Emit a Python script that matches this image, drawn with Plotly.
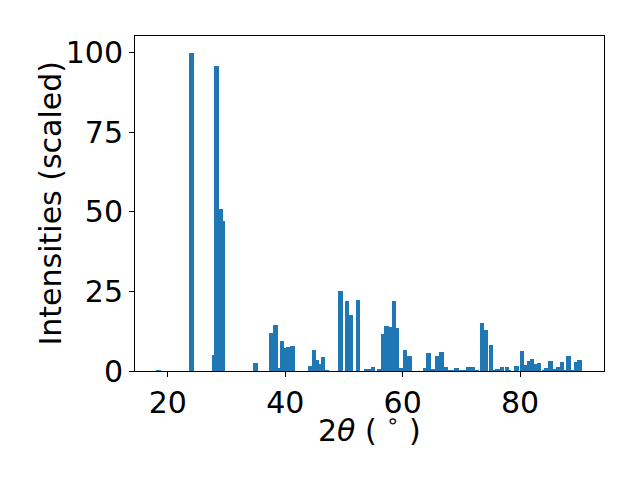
import plotly.graph_objects as go

two_theta = [18.4, 24.0, 27.85, 28.3, 29.0, 29.4, 34.9,
             37.6, 38.35, 39.0, 39.45, 40.05, 40.55, 41.25,
             44.3, 44.9, 45.4, 45.65, 46.4, 47.0,
             49.4, 50.5, 51.2, 52.4, 53.8, 54.2, 54.9,
             56.05, 56.65, 57.25, 57.85, 58.5, 59.0, 59.3, 59.8, 60.4, 61.15,
             63.8, 64.4, 65.1, 65.9, 66.6, 67.4, 68.0, 68.6, 69.15, 69.8, 70.4,
             71.2, 72.0, 72.6, 73.5, 74.1, 75.05, 75.4,
             76.15, 76.9, 77.75, 78.1, 79.4, 80.3, 81.0, 81.55, 82.05, 82.6, 83.2,
             84.1, 84.5, 85.2, 86.0, 86.55, 87.1, 87.6, 88.25, 88.8, 89.1, 89.5, 90.1]
intensity = [0.3, 100, 5.0, 96.0, 50.9, 47.2, 2.6,
             12.0, 14.5, 1.0, 9.4, 7.1, 7.4, 7.9,
             1.6, 6.6, 3.5, 2.2, 4.4, 0.3,
             25.2, 22.0, 17.6, 22.3, 0.6, 0.6, 1.3,
             0.6, 11.6, 14.1, 13.8, 22.0, 13.5, 0.6, 1.0, 6.6, 4.7,
             1.0, 5.7, 0.6, 4.7, 6.0, 1.3, 0.3, 0.3, 1.0, 0.3, 0.3,
             1.3, 1.3, 0.3, 15.1, 12.9, 8.2, 0.3,
             0.6, 1.3, 1.3, 0.3, 1.6, 6.3, 1.9, 3.1, 3.8, 2.2, 2.5,
             0.3, 1.0, 3.1, 0.6, 1.3, 2.8, 0.3, 4.7, 0.3, 0.3, 2.8, 3.5]

x_ticks = [20, 40, 60, 80]
y_ticks = [0, 25, 50, 75, 100]

fig = go.Figure(go.Bar(x=two_theta, y=intensity, width=0.75,
                       marker=dict(color="#1f77b4", line=dict(width=0))))

font = dict(family="DejaVu Sans", size=30, color="black")
fig.update_layout(
    width=640, height=480,
    margin=dict(l=127, r=44, t=28, b=117),
    paper_bgcolor="white", plot_bgcolor="white",
    font=font, showlegend=False, bargap=0,
)
fig.update_xaxes(range=[14.4, 94.3], tickvals=x_ticks, ticks="outside", ticklen=5,
                 tickwidth=1, tickcolor="black", showline=True, linecolor="black",
                 linewidth=1, mirror=True, showgrid=False, zeroline=False,
                 automargin=False, tickfont=font)
fig.update_yaxes(range=[0, 105.3], tickvals=y_ticks, ticks="outside", ticklen=5,
                 tickwidth=1, tickcolor="black", showline=True, linecolor="black",
                 linewidth=1, mirror=True, showgrid=False, zeroline=False,
                 automargin=False, tickfont=font)
fig.add_annotation(text="Intensities (scaled)", xref="paper", yref="paper",
                   x=0, y=0.5, xanchor="center", yanchor="middle", xshift=-85,
                   textangle=-90, showarrow=False, font=font)
fig.add_annotation(text="2<i>θ</i> ( <sup>∘</sup> )", xref="paper", yref="paper",
                   x=0.5, y=0, xanchor="center", yanchor="top", yshift=-36,
                   showarrow=False, font=font)

fig.write_html("out.html")
